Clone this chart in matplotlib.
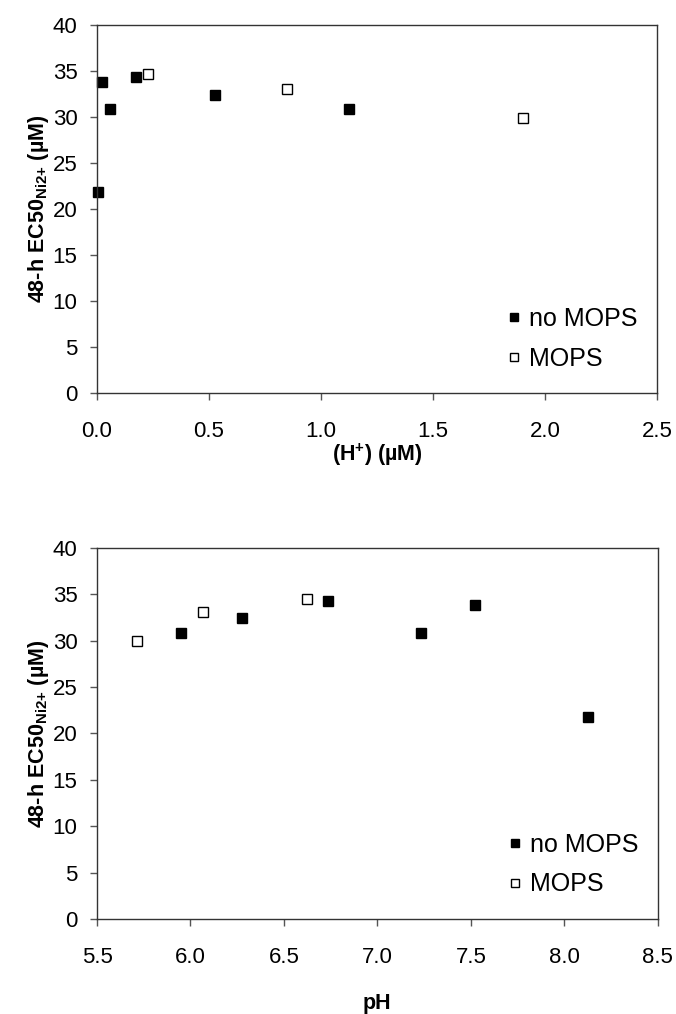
import matplotlib
matplotlib.use('Agg')
import matplotlib.pyplot as plt

plt.rcParams['font.family'] = ['Liberation Sans', 'DejaVu Sans']

# top panel: (H+) in uM
h_no_mops = [0.006, 0.024, 0.057, 0.175, 0.525, 1.127]
ec_h_no_mops = [21.8, 33.8, 30.9, 34.3, 32.4, 30.9]
h_mops = [0.226, 0.85, 1.90]
ec_h_mops = [34.7, 33.0, 29.9]

# bottom panel: pH
ph_no_mops = [5.947, 6.275, 6.737, 7.236, 7.52, 8.127]
ec_ph_no_mops = [30.8, 32.5, 34.3, 30.8, 33.9, 21.75]
ph_mops = [5.712, 6.068, 6.621]
ec_ph_mops = [30.0, 33.1, 34.5]

ylabel = r'48-h EC50$_{\mathregular{Ni2{+}}}$ (µM)'

fig = plt.figure(figsize=(6.76, 10.14), dpi=100)
ax1 = fig.add_axes([0.1435, 0.6124, 0.8285, 0.3629])
ax2 = fig.add_axes([0.1435, 0.0937, 0.8295, 0.3659])


def style(ax, x, y, xm, ym, xlim, xticks, xlabel, xpad):
    ax.plot(x, y, 's', color='black', markersize=6.5, label='no MOPS',
            clip_on=False)
    ax.plot(xm, ym, 's', markerfacecolor='white', markeredgecolor='black',
            markeredgewidth=1.0, markersize=6.5, label='MOPS', clip_on=False)
    ax.set_xlim(*xlim)
    ax.set_ylim(0, 40)
    ax.set_xticks(xticks)
    ax.set_xticklabels(['%.1f' % t for t in xticks])
    ax.set_yticks(range(0, 41, 5))
    ax.tick_params(direction='out', length=5, width=1, color='#555555',
                   labelsize=16)
    ax.tick_params(axis='x', pad=15)
    ax.tick_params(axis='y', pad=9)
    for s in ax.spines.values():
        s.set_color('#333333')
        s.set_linewidth(1)
    ax.set_ylabel(ylabel, fontsize=15.5, fontweight='bold', labelpad=1)
    ax.set_xlabel(xlabel, fontsize=15.5, fontweight='bold', labelpad=xpad)
    ax.legend(loc='lower right', frameon=False, fontsize=18, markerscale=0.85,
              handlelength=0.6, handletextpad=0.3, labelspacing=0.62,
              bbox_to_anchor=(1.005, 0.0))


style(ax1, h_no_mops, ec_h_no_mops, h_mops, ec_h_mops, (0, 2.5),
      [0, 0.5, 1.0, 1.5, 2.0, 2.5], r'(H$^{\mathregular{+}}$) (µM)', 0)
style(ax2, ph_no_mops, ec_ph_no_mops, ph_mops, ec_ph_mops, (5.5, 8.5),
      [5.5, 6.0, 6.5, 7.0, 7.5, 8.0, 8.5], 'pH', 18)

fig.savefig('out.png', dpi=100)
